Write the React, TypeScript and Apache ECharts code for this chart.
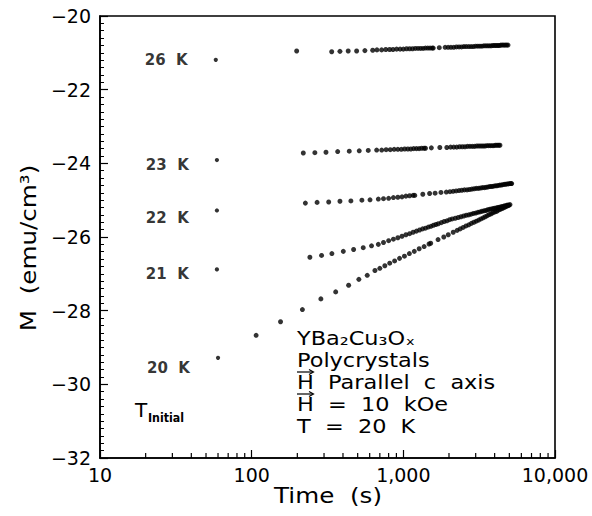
import React, { useEffect, useRef } from "react";
import * as echarts from "echarts";

// ---- axis settings ----
const X_MIN = 10;
const X_MAX = 10000;
const Y_MIN = -32;
const Y_MAX = -20;
const Y_STEP = 2;
const X_MINOR_TICKS = [
  20, 30, 40, 50, 60, 70, 80, 90,
  200, 300, 400, 500, 600, 700, 800, 900,
  2000, 3000, 4000, 5000, 6000, 7000, 8000, 9000,
];

// ---- series labels ----
const TEMP_LABELS = ["26  K", "23  K", "22  K", "21  K", "20  K"];

// ---- data: [time (s), M (emu/cm^3)] ; first point is the T_initial point ----
const S26: number[][] = [
  [58, -21.19], [198, -20.95],
  [337, -20.97], [382, -20.96], [433, -20.95], [492, -20.95], [558, -20.94], [628, -20.93],
  [670, -20.92], [719, -20.92], [766, -20.91], [812, -20.91], [855, -20.91], [903, -20.9],
  [952, -20.9], [1000, -20.9], [1050, -20.89], [1100, -20.89], [1150, -20.89], [1200, -20.88],
  [1250, -20.88], [1300, -20.88], [1350, -20.88], [1400, -20.87], [1450, -20.87], [1500, -20.87],
  [1550, -20.87], [1575, -20.87],
  [1726, -20.86], [1886, -20.85], [1974, -20.85], [2060, -20.85], [2150, -20.85], [2240, -20.84],
  [2330, -20.84], [2420, -20.84], [2510, -20.83], [2600, -20.83], [2700, -20.83], [2800, -20.83],
  [2900, -20.83], [3000, -20.82], [3100, -20.82], [3200, -20.82], [3300, -20.82], [3400, -20.81],
  [3500, -20.81], [3600, -20.81], [3700, -20.81], [3800, -20.81], [3900, -20.8], [4000, -20.8],
  [4100, -20.8], [4200, -20.8], [4300, -20.8], [4400, -20.79], [4500, -20.79], [4600, -20.79],
  [4700, -20.79], [4800, -20.79], [4900, -20.79],
];

const S23: number[][] = [
  [59, -23.91],
  [219, -23.72], [261, -23.71], [309, -23.7], [369, -23.68], [440, -23.67], [512, -23.66],
  [587, -23.65], [667, -23.64], [720, -23.64], [770, -23.63], [820, -23.63], [870, -23.62],
  [920, -23.62], [970, -23.62], [1020, -23.61], [1070, -23.61], [1120, -23.61], [1170, -23.6],
  [1220, -23.6], [1270, -23.6], [1320, -23.59], [1370, -23.59], [1400, -23.59],
  [1530, -23.58], [1740, -23.57], [1935, -23.57], [2050, -23.56], [2150, -23.56], [2250, -23.56],
  [2350, -23.55], [2450, -23.55], [2550, -23.55], [2650, -23.54], [2750, -23.54], [2850, -23.54],
  [2950, -23.54], [3050, -23.53], [3150, -23.53], [3250, -23.53], [3350, -23.53], [3450, -23.53],
  [3550, -23.52], [3650, -23.52], [3750, -23.52], [3850, -23.52], [3950, -23.52], [4050, -23.51],
  [4150, -23.51], [4250, -23.51], [4335, -23.51],
];

const S22: number[][] = [
  [59, -25.28],
  [226, -25.08], [270, -25.06], [322, -25.05], [382, -25.03], [451, -25.02], [533, -25.0],
  [603, -24.99], [684, -24.97], [740, -24.96], [800, -24.95], [860, -24.93], [920, -24.92],
  [980, -24.91], [1040, -24.89], [1100, -24.88], [1160, -24.87], [1190, -24.87],
  [1344, -24.84], [1490, -24.82], [1620, -24.81], [1770, -24.79], [1920, -24.78], [2030, -24.77],
  [2130, -24.76], [2230, -24.75], [2330, -24.74], [2430, -24.73], [2530, -24.72], [2630, -24.72],
  [2730, -24.71], [2830, -24.7], [2930, -24.69], [3030, -24.68], [3130, -24.68], [3230, -24.67],
  [3330, -24.66], [3430, -24.66], [3530, -24.65], [3630, -24.64], [3730, -24.63], [3830, -24.63],
  [3930, -24.62], [4030, -24.61], [4130, -24.61], [4230, -24.6], [4330, -24.59], [4430, -24.59],
  [4530, -24.58], [4630, -24.57], [4730, -24.57], [4830, -24.56], [4930, -24.56], [5030, -24.55],
  [5130, -24.55], [5180, -24.55],
];

const S21: number[][] = [
  [59, -26.88],
  [242, -26.55], [289, -26.5], [338, -26.45], [402, -26.39], [470, -26.34], [544, -26.29],
  [617, -26.24], [684, -26.2], [740, -26.15], [800, -26.1], [860, -26.06], [920, -26.02],
  [980, -25.98], [1040, -25.94], [1100, -25.91], [1160, -25.87], [1220, -25.84], [1280, -25.81],
  [1340, -25.78], [1400, -25.76], [1460, -25.73], [1520, -25.71], [1580, -25.68], [1640, -25.66],
  [1700, -25.64], [1780, -25.61], [1860, -25.58], [1940, -25.56], [2020, -25.53], [2100, -25.51],
  [2200, -25.49], [2300, -25.47], [2400, -25.45], [2500, -25.43], [2600, -25.41], [2700, -25.4],
  [2800, -25.38], [2900, -25.36], [3000, -25.35], [3100, -25.33], [3200, -25.32], [3300, -25.3],
  [3400, -25.29], [3500, -25.28], [3600, -25.26], [3700, -25.25], [3800, -25.24], [3900, -25.23],
  [4000, -25.22], [4100, -25.21], [4200, -25.2], [4300, -25.19], [4400, -25.18], [4500, -25.17],
  [4600, -25.16], [4700, -25.15], [4800, -25.14], [4900, -25.13], [5050, -25.12],
];

const S20: number[][] = [
  [60, -29.28],
  [107, -28.67], [155, -28.3], [216, -27.97], [286, -27.68], [358, -27.49], [436, -27.31],
  [509, -27.15], [578, -27.04], [650, -26.91], [700, -26.85], [755, -26.78], [813, -26.71],
  [876, -26.65], [944, -26.58], [1017, -26.52], [1096, -26.45], [1181, -26.39], [1272, -26.32],
  [1371, -26.26], [1477, -26.19], [1515, -26.17],
  [1694, -26.07], [1848, -26.0], [1978, -25.94], [2133, -25.87], [2263, -25.82], [2370, -25.78],
  [2480, -25.74], [2590, -25.7], [2700, -25.67], [2810, -25.63], [2920, -25.6], [3030, -25.57],
  [3140, -25.54], [3250, -25.51], [3360, -25.48], [3470, -25.45], [3580, -25.42], [3690, -25.39],
  [3800, -25.37], [3910, -25.34], [4020, -25.32], [4130, -25.3], [4240, -25.27], [4350, -25.25],
  [4460, -25.23], [4570, -25.21], [4680, -25.19], [4790, -25.17], [4900, -25.15], [4970, -25.14],
];

const SERIES_DATA = [S26, S23, S22, S21, S20];
const LABEL_DY = [0, 5, 8, 5, 10];

const FONT = "DejaVu Sans";

function App() {
  const ref = useRef<HTMLDivElement>(null);

  useEffect(() => {
    if (!ref.current) return;
    const chart = echarts.init(ref.current, null, { renderer: "svg" });

    const scatterSeries = SERIES_DATA.map((data, si) => ({
      type: "scatter",
      name: TEMP_LABELS[si],
      symbol: "circle",
      symbolSize: 5,
      itemStyle: { color: "#000" },
      silent: true,
      data: data.map((p, i) =>
        i === 0
          ? {
              value: p,
              symbolSize: 4.2,
              label: {
                show: true,
                formatter: TEMP_LABELS[si],
                position: "left",
                distance: 26,
                offset: [0, LABEL_DY[si]],
                color: "#000",
                fontSize: 15,
                fontWeight: "bold",
                fontFamily: FONT,
              },
            }
          : { value: p }
      ),
    }));

    const arrow = (y: number) => ({
      type: "group",
      children: [
        {
          type: "line",
          shape: { x1: 297, y1: y, x2: 313, y2: y },
          style: { stroke: "#000", lineWidth: 1.2 },
        },
        {
          type: "polyline",
          shape: { points: [[309, y - 2.5], [313.5, y], [309, y + 2.5]] },
          style: { stroke: "#000", lineWidth: 1.2, fill: null },
        },
      ],
    });

    const option: any = {
      animation: false,
      backgroundColor: "#fff",
      textStyle: { fontFamily: FONT, color: "#000" },
      grid: {
        left: 100,
        top: 16,
        right: 37,
        bottom: 58,
        show: true,
        borderColor: "#000",
        borderWidth: 1.6,
        backgroundColor: "transparent",
      },
      xAxis: {
        type: "log",
        logBase: 10,
        min: X_MIN,
        max: X_MAX,
        axisLine: { show: true, lineStyle: { color: "#000", width: 1.6 } },
        axisTick: { show: true, inside: true, length: 8, lineStyle: { color: "#000", width: 1.2 } },
        axisLabel: {
          color: "#000",
          fontSize: 19,
          fontFamily: FONT,
          margin: 7,
          showMinLabel: true,
          showMaxLabel: true,
        },
        splitLine: { show: false },
      },
      yAxis: {
        type: "value",
        min: Y_MIN,
        max: Y_MAX,
        interval: Y_STEP,
        axisLine: { show: true, lineStyle: { color: "#000", width: 1.6 } },
        axisTick: { show: true, inside: true, length: 8, lineStyle: { color: "#000", width: 1.2 } },
        minorTick: { show: true, splitNumber: 10, length: 4, lineStyle: { color: "#000", width: 1 } },
        axisLabel: {
          color: "#000",
          fontSize: 19,
          fontFamily: FONT,
          margin: 9,
          formatter: (v: number) => String(v).replace("-", "\u2212"),
        },
        splitLine: { show: false },
        minorSplitLine: { show: false },
      },
      series: [
        ...scatterSeries,
        {
          type: "custom",
          silent: true,
          clip: false,
          coordinateSystem: "cartesian2d",
          encode: { x: 0, y: 1 },
          data: X_MINOR_TICKS.map((t) => [t, Y_MIN]),
          renderItem: (params: any, api: any) => {
            const p = api.coord([api.value(0), api.value(1)]);
            return {
              type: "line",
              shape: { x1: p[0], y1: p[1], x2: p[0], y2: p[1] - 5 },
              style: { stroke: "#000", lineWidth: 1.2 },
            };
          },
          z: 5,
        },
      ],
      graphic: [
        {
          type: "text",
          x: 28,
          y: 248,
          rotation: Math.PI / 2,
          scaleX: 1.12,
          style: {
            text: "M  (emu/cm³)",
            fontSize: 22,
            fontFamily: FONT,
            fill: "#000",
            align: "center",
            verticalAlign: "middle",
          },
        },
        {
          type: "text",
          x: 328,
          y: 495,
          scaleX: 1.12,
          style: {
            text: "Time  (s)",
            fontSize: 22,
            fontFamily: FONT,
            fill: "#000",
            align: "center",
            verticalAlign: "middle",
          },
        },
        {
          type: "text",
          x: 297,
          y: 327,
          scaleX: 1.12,
          style: {
            text: "YBa₂Cu₃Oₓ\nPolycrystals\nH  Parallel  c  axis\nH  =  10  kOe\nT  =  20  K",
            fontSize: 20,
            lineHeight: 22,
            fontFamily: FONT,
            fill: "#000",
            align: "left",
            verticalAlign: "top",
          },
        },
        arrow(372),
        arrow(394),
        {
          type: "text",
          x: 135,
          y: 410,
          style: {
            text: "T",
            fontSize: 20,
            fontFamily: FONT,
            fill: "#000",
            align: "left",
            verticalAlign: "middle",
          },
        },
        {
          type: "text",
          x: 148,
          y: 418,
          scaleX: 0.85,
          style: {
            text: "Initial",
            fontSize: 13,
            fontWeight: "bold",
            fontFamily: FONT,
            fill: "#000",
            align: "left",
            verticalAlign: "middle",
          },
        },
      ],
    };

    chart.setOption(option);
    return () => chart.dispose();
  }, []);

  return (
    <div
      ref={ref}
      style={{ position: "fixed", left: 0, top: 0, width: 592, height: 516, background: "#fff" }}
    />
  );
}

export default App;
